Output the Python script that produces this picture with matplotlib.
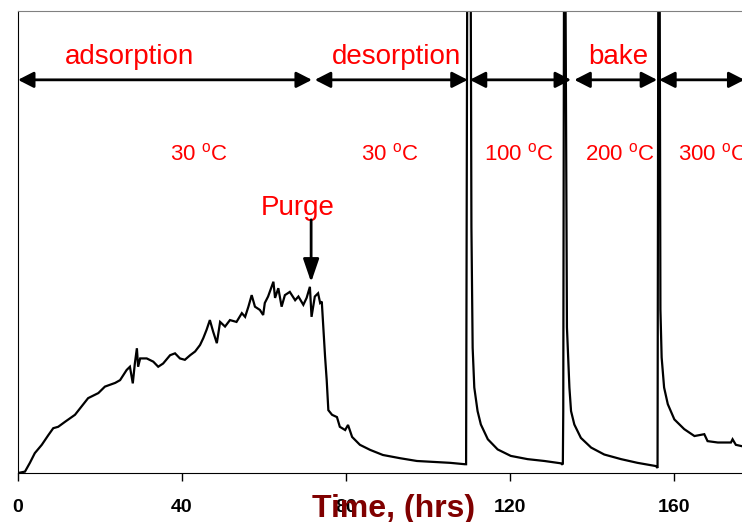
import matplotlib

matplotlib.use("Agg")

import matplotlib.pyplot as plt

plt.rcParams["font.family"] = ["Liberation Sans", "DejaVu Sans"]
plt.rcParams["mathtext.fontset"] = "custom"
plt.rcParams["mathtext.rm"] = "Liberation Sans"

# signal trace (time in hrs, signal in arbitrary units, axis top = 100)
# peaks of the three heating steps run off the top of the axis (115 = clipped)
time_hrs = [
    0.0, 1.7, 2.9, 4.1, 5.8, 7.4, 8.6, 9.8, 11.5, 13.9, 15.5, 17.1, 19.6, 21.2, 23.7,
    24.9, 26.5, 27.3, 28.0, 28.5, 29.0, 29.3, 29.8, 31.4, 33.0, 34.2, 35.4, 37.1,
    38.3, 39.5, 40.7, 42.0, 43.2, 44.4, 45.2, 46.0, 46.8, 47.6, 48.5, 49.3, 50.5,
    51.7, 53.3, 54.6, 55.4, 56.2, 57.0, 57.8, 59.0, 59.8, 60.2, 61.0, 62.3, 62.7,
    63.5, 64.3, 65.1, 66.3, 67.6, 68.4, 69.6, 70.4, 71.2, 71.6, 72.4, 73.2, 73.7,
    74.1, 74.5, 74.9, 75.3, 75.7, 76.6, 77.8, 78.5, 79.8, 80.5, 81.5, 83.4, 85.9,
    89.0, 93.2, 97.3, 101.2, 105.4, 109.0, 109.3, 109.6, 110.4, 110.6, 110.9,
    111.3, 112.1, 112.9, 114.6, 117.0, 120.2, 124.3, 128.4, 132.4, 132.7, 132.9,
    133.0, 133.2, 133.5, 133.9, 134.5, 134.9, 135.7, 137.3, 139.8, 143.0, 147.1,
    151.1, 155.6, 156.0, 156.2, 156.5, 156.7, 157.0, 157.6, 158.5, 160.1, 162.5,
    165.0, 167.4, 168.2, 170.7, 173.9, 174.3, 175.1, 176.6,
]
signal = [
    0.0, 0.3, 2.2, 4.3, 6.1, 8.2, 9.7, 10.0, 11.1, 12.6, 14.4, 16.2, 17.3, 18.7, 19.5,
    20.1, 22.3, 23.0, 19.4, 23.7, 27.0, 23.0, 24.8, 24.8, 24.1, 23.0, 23.7, 25.5,
    25.9, 24.8, 24.5, 25.5, 26.3, 27.7, 29.2, 31.0, 33.1, 30.6, 28.1, 32.7, 31.7,
    33.1, 32.7, 34.6, 33.8, 36.0, 38.5, 36.0, 35.3, 34.2, 36.8, 38.2, 41.4, 37.9,
    40.0, 36.0, 38.5, 39.2, 37.4, 38.2, 36.4, 37.9, 40.3, 33.8, 38.2, 38.9, 36.8,
    37.1, 31.0, 25.2, 20.1, 13.6, 12.6, 12.1, 10.0, 9.3, 10.4, 7.8, 6.1, 5.0,
    3.9, 3.2, 2.6, 2.4, 2.2, 1.9, 1.9, 115.0, 115.0, 53.2, 27.1,
    18.5, 13.4, 10.5, 7.3, 5.1, 3.7, 3.0, 2.6, 2.1, 1.9, 2.0,
    13.4, 115.0, 115.0, 31.5, 18.5, 13.4, 10.5, 7.6, 5.5, 4.0, 3.0,
    2.2, 1.5, 1.1, 115.0, 115.0, 35.4, 25.0, 18.5, 14.9, 11.6, 9.5,
    8.0, 8.4, 6.9, 6.6, 6.6, 7.3, 6.1, 5.8,
]

ticks = [0, 40, 80, 120, 160]

# phase arrows: (start hrs, end hrs)
phase_spans = [(0.0, 71.7), (72.4, 109.7), (110.2, 134.9), (135.7, 155.9), (156.4, 177.2)]
phase_names = [("adsorption", 27.1), ("desorption", 92.4), ("bake", 146.3)]
temp_labels = [("30", 37.1), ("30", 83.7), ("100", 113.7), ("200", 138.3), ("300", 161.0)]
purge_at = 71.5

fig = plt.figure(figsize=(7.42, 5.22), dpi=100)
ax = fig.add_axes([18 / 742, 49 / 522, 724 / 742, 462 / 522])

ax.plot(time_hrs, signal, color="black", lw=1.6, solid_joinstyle="miter")

ax.set_xlim(0, 176.6)
ax.set_ylim(0, 100)
ax.set_yticks([])
ax.set_xticks(ticks)
ax.tick_params(axis="x", direction="out", length=5.5, width=1, pad=13.5, labelsize=14)
for lab in ax.get_xticklabels():
    lab.set_fontweight("bold")

ax.spines["right"].set_visible(False)
ax.spines["top"].set_color("#808080")
ax.spines["left"].set_color("black")
ax.spines["bottom"].set_color("black")

arrow_y = 85.1
for a, b in phase_spans:
    ax.annotate(
        "", xy=(b, arrow_y), xytext=(a, arrow_y),
        arrowprops=dict(arrowstyle="<|-|>,head_length=0.47,head_width=0.24",
                        mutation_scale=20, lw=2, color="black",
                        shrinkA=0, shrinkB=0),
        annotation_clip=False,
    )

for name, x in phase_names:
    ax.text(x, 88.5, name, ha="center", va="baseline", fontsize=20, color="#ff0000")

for t, x in temp_labels:
    ax.text(x, 67.7, t + r" $^{\mathrm{o}}$C", ha="left", va="baseline",
            fontsize=16, color="#ff0000")

ax.text(68.3, 55.8, "Purge", ha="center", va="baseline", fontsize=20, color="#ff0000")
ax.annotate(
    "", xy=(purge_at, 41.3), xytext=(purge_at, 54.8),
    arrowprops=dict(arrowstyle="-|>,head_length=0.7,head_width=0.24",
                    mutation_scale=20, lw=2, color="black", shrinkA=0, shrinkB=0),
)

fig.text(394 / 742, 5 / 522, "Time, (hrs)", ha="center", va="baseline",
         fontsize=23, fontweight="bold", color="#800000")

fig.savefig("out.png", dpi=100)
